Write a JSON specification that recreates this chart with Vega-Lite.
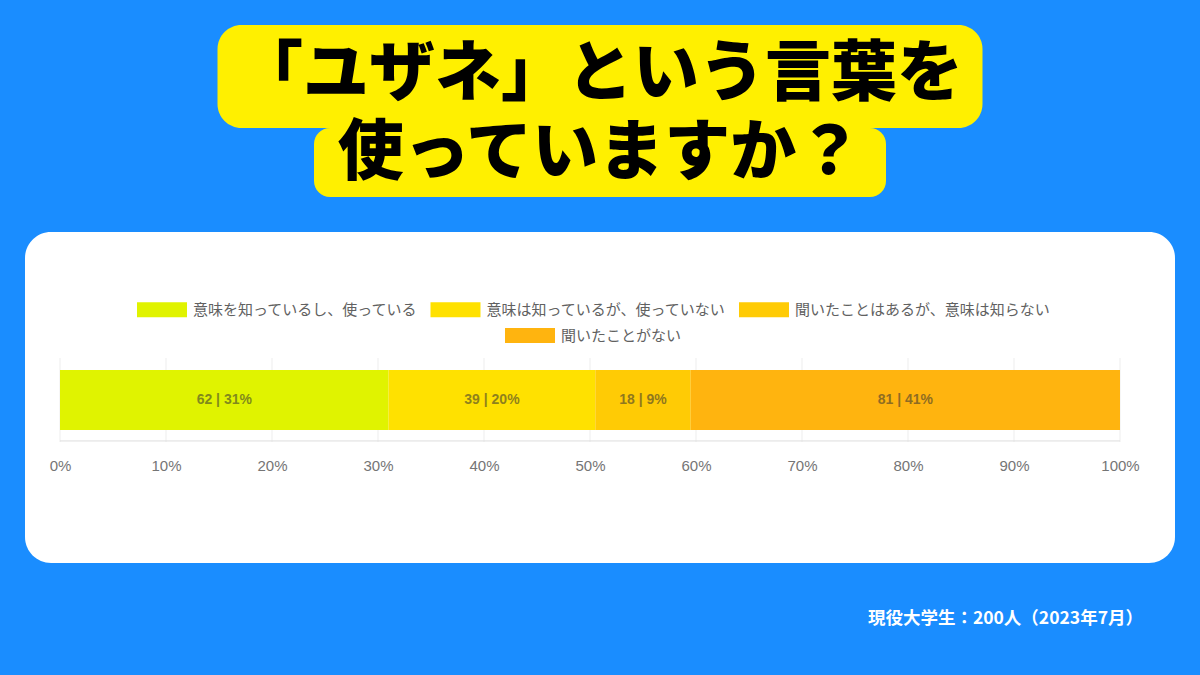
{
  "$schema": "https://vega.github.io/schema/vega-lite/v6.json",
  "background": "#1a8dff",
  "padding": {"left": 25, "top": 25, "right": 25, "bottom": 56},
  "config": {"view": {"stroke": null}},
  "title": {
    "text": "現役大学生：200人（2023年7月）",
    "orient": "bottom",
    "anchor": "end",
    "frame": "bounds",
    "font": "Noto Sans CJK JP",
    "fontSize": 17.5,
    "fontWeight": "bold",
    "color": "#ffffff",
    "offset": 47,
    "dx": -32
  },
  "datasets": {
    "answers": [
      {"row": "回答", "k": 1, "answer": "意味を知っているし、使っている", "count": 62, "label": "62 | 31%"},
      {"row": "回答", "k": 2, "answer": "意味は知っているが、使っていない", "count": 39, "label": "39 | 20%"},
      {"row": "回答", "k": 3, "answer": "聞いたことはあるが、意味は知らない", "count": 18, "label": "18 | 9%"},
      {"row": "回答", "k": 4, "answer": "聞いたことがない", "count": 81, "label": "81 | 41%"}
    ],
    "ticks": [
      {"row": "回答", "v": 0}, {"row": "回答", "v": 0.1}, {"row": "回答", "v": 0.2},
      {"row": "回答", "v": 0.3}, {"row": "回答", "v": 0.4}, {"row": "回答", "v": 0.5},
      {"row": "回答", "v": 0.6}, {"row": "回答", "v": 0.7}, {"row": "回答", "v": 0.8},
      {"row": "回答", "v": 0.9}, {"row": "回答", "v": 1}
    ],
    "base": [{"row": "回答", "from": 0, "to": 1}],
    "line1": [{"line": "「ユザネ」という言葉を"}],
    "line2": [{"line": "使っていますか？"}]
  },
  "spacing": 35,
  "center": true,
  "resolve": {
    "scale": {"color": "independent", "fill": "independent", "x": "independent", "y": "independent"},
    "legend": {"color": "independent", "fill": "independent"}
  },
  "vconcat": [
    {
      "spacing": 0,
      "center": true,
      "bounds": "flush",
      "vconcat": [
        {
          "width": 765,
          "height": 103,
          "view": {"fill": "#fff000", "stroke": null, "cornerRadius": 24},
          "data": {"name": "line1"},
          "mark": {"type": "text", "font": "Noto Sans CJK JP", "fontSize": 66, "fontWeight": 900, "color": "#000000", "baseline": "middle", "align": "center", "dy": -2},
          "encoding": {"text": {"field": "line"}}
        },
        {
          "width": 572,
          "height": 69,
          "view": {"fill": "#fff000", "stroke": null, "cornerRadius": 16},
          "data": {"name": "line2"},
          "mark": {"type": "text", "font": "Noto Sans CJK JP", "fontSize": 66, "fontWeight": 900, "color": "#000000", "baseline": "middle", "align": "center", "dy": -9},
          "encoding": {"text": {"field": "line"}}
        }
      ]
    },
    {
      "width": 1150,
      "height": 331,
      "view": {"fill": "#ffffff", "stroke": null, "cornerRadius": 26},
      "layer": [
        {
          "data": {"name": "ticks"},
          "mark": {"type": "tick", "color": "#e6e6e6", "thickness": 1, "size": 84},
          "encoding": {
            "x": {
              "field": "v",
              "type": "quantitative",
              "scale": {"domain": [-0.033019, 1.051887], "nice": false, "zero": false},
              "axis": {
                "values": [0, 0.1, 0.2, 0.3, 0.4, 0.5, 0.6, 0.7, 0.8, 0.9, 1],
                "format": ".0%",
                "title": null,
                "domain": false,
                "ticks": false,
                "grid": false,
                "labelFont": "Liberation Sans",
                "labelFontSize": 15,
                "labelColor": "#757575",
                "labelPadding": 0,
                "labelFlush": false,
                "offset": -105
              }
            },
            "y": {"field": "row", "type": "nominal", "scale": {"type": "band", "paddingInner": 0.557, "paddingOuter": 1, "align": 0.509}, "axis": null}
          }
        },
        {
          "data": {"name": "base"},
          "mark": {"type": "rule", "color": "#dedede", "strokeWidth": 1, "yOffset": 41},
          "encoding": {
            "x": {"field": "from", "type": "quantitative"},
            "x2": {"field": "to"},
            "y": {"field": "row", "type": "nominal"}
          }
        },
        {
          "data": {"name": "answers"},
          "transform": [
            {"stack": "count", "groupby": ["row"], "sort": [{"field": "k", "order": "ascending"}], "offset": "normalize", "as": ["x0", "x1"]},
            {"filter": "datum.k <= 3"}
          ],
          "mark": {"type": "bar"},
          "encoding": {
            "x": {"field": "x0", "type": "quantitative"},
            "x2": {"field": "x1"},
            "y": {"field": "row", "type": "nominal"},
            "color": {
              "field": "answer",
              "type": "nominal",
              "scale": {
                "domain": ["意味を知っているし、使っている", "意味は知っているが、使っていない", "聞いたことはあるが、意味は知らない"],
                "range": ["#e0f300", "#ffe100", "#ffcb05"]
              },
              "legend": {
                "orient": "none",
                "legendX": 129.5,
                "legendY": 70,
                "direction": "horizontal",
                "columns": 3,
                "title": null,
                "symbolType": "M-3.333,-1H3.333V1H-3.333Z",
                "symbolSize": 225,
                "symbolStrokeWidth": 0,
                "labelFont": "Noto Sans CJK JP",
                "labelFontSize": 15,
                "labelColor": "#616161",
                "labelOffset": 23.5,
                "labelLimit": 400,
                "columnPadding": 11.5,
                "rowPadding": 10,
                "padding": 0
              }
            }
          }
        },
        {
          "data": {"name": "answers"},
          "transform": [
            {"stack": "count", "groupby": ["row"], "sort": [{"field": "k", "order": "ascending"}], "offset": "normalize", "as": ["x0", "x1"]},
            {"filter": "datum.k == 4"}
          ],
          "mark": {"type": "bar"},
          "encoding": {
            "x": {"field": "x0", "type": "quantitative"},
            "x2": {"field": "x1"},
            "y": {"field": "row", "type": "nominal"},
            "fill": {
              "field": "answer",
              "type": "nominal",
              "scale": {"domain": ["聞いたことがない"], "range": ["#ffb40f"]},
              "legend": {
                "orient": "none",
                "legendX": 497.5,
                "legendY": 96,
                "direction": "horizontal",
                "title": null,
                "symbolType": "M-3.333,-1H3.333V1H-3.333Z",
                "symbolSize": 225,
                "symbolStrokeWidth": 0,
                "labelFont": "Noto Sans CJK JP",
                "labelFontSize": 15,
                "labelColor": "#616161",
                "labelOffset": 23.5,
                "labelLimit": 400,
                "padding": 0
              }
            }
          }
        },
        {
          "data": {"name": "answers"},
          "mark": {"type": "text", "font": "Liberation Sans", "fontSize": 14, "fontWeight": "bold", "color": "#333333", "opacity": 0.55, "baseline": "middle", "align": "center"},
          "encoding": {
            "x": {"field": "count", "type": "quantitative", "stack": "normalize", "bandPosition": 0.5},
            "y": {"field": "row", "type": "nominal"},
            "order": {"field": "k", "type": "quantitative"},
            "text": {"field": "label"}
          }
        }
      ]
    }
  ]
}
